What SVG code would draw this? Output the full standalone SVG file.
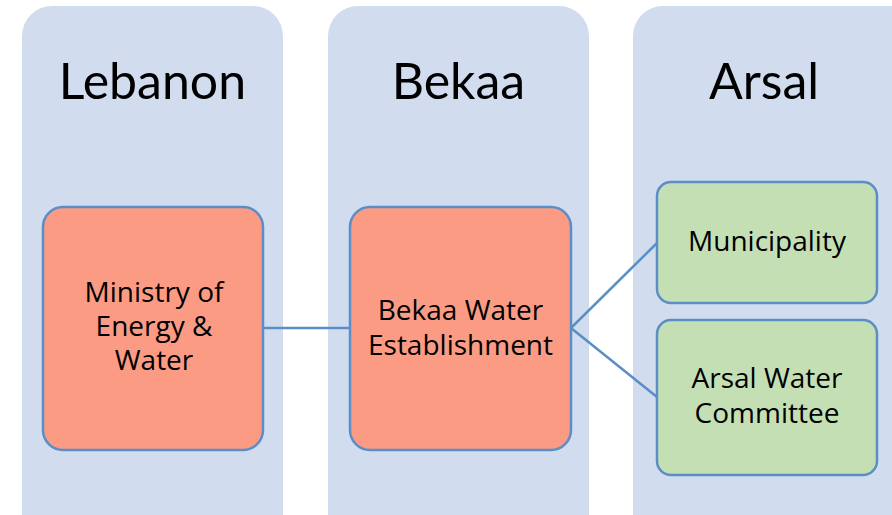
<svg xmlns="http://www.w3.org/2000/svg" width="892" height="515" viewBox="0 0 892 515">
<style>
.col{fill:#D1DCEF;}
.red{fill:#FC9B84;stroke:#5B8EC6;stroke-width:2.5;}
.grn{fill:#C5DFB5;stroke:#5B8EC6;stroke-width:2.5;}
.hd{font-family:Lato,"Open Sans",sans-serif;font-size:50px;fill:#000;text-anchor:middle;}
.tx{font-family:"Open Sans",Lato,sans-serif;font-size:28px;fill:#000;text-anchor:middle;}
.cn{stroke:#5B8EC6;stroke-width:2.5;fill:none;}
</style>
<rect width="892" height="515" fill="#fff"/>
<g id="col-lebanon"><rect class="col" x="22" y="6" width="261" height="540" rx="30"/><text class="hd" x="152.5" y="99">Lebanon</text></g>
<g id="col-bekaa"><rect class="col" x="328" y="6" width="261" height="540" rx="30"/><text class="hd" x="458.5" y="99">Bekaa</text></g>
<g id="col-arsal"><rect class="col" x="633" y="6" width="300" height="540" rx="30"/><text class="hd" x="764" y="99">Arsal</text></g>
<g id="connectors">
<line class="cn" x1="263" y1="328" x2="350" y2="328"/>
<line class="cn" x1="571" y1="328" x2="657" y2="243"/>
<line class="cn" x1="571" y1="328" x2="657" y2="397"/>
</g>
<g id="ministry"><rect class="red" x="43" y="207" width="220" height="243" rx="20"/><text class="tx" x="154" y="302">Ministry of</text><text class="tx" x="154" y="336">Energy &amp;</text><text class="tx" x="154" y="370">Water</text></g>
<g id="bwe"><rect class="red" x="350" y="207" width="221" height="243" rx="20"/><text class="tx" x="460.5" y="320">Bekaa Water</text><text class="tx" x="460.5" y="355">Establishment</text></g>
<g id="municipality"><rect class="grn" x="657" y="182" width="220" height="121" rx="14"/><text class="tx" x="767" y="251">Municipality</text></g>
<g id="committee"><rect class="grn" x="657" y="320" width="220" height="155" rx="14"/><text class="tx" x="767" y="388">Arsal Water</text><text class="tx" x="767" y="423">Committee</text></g>
</svg>
